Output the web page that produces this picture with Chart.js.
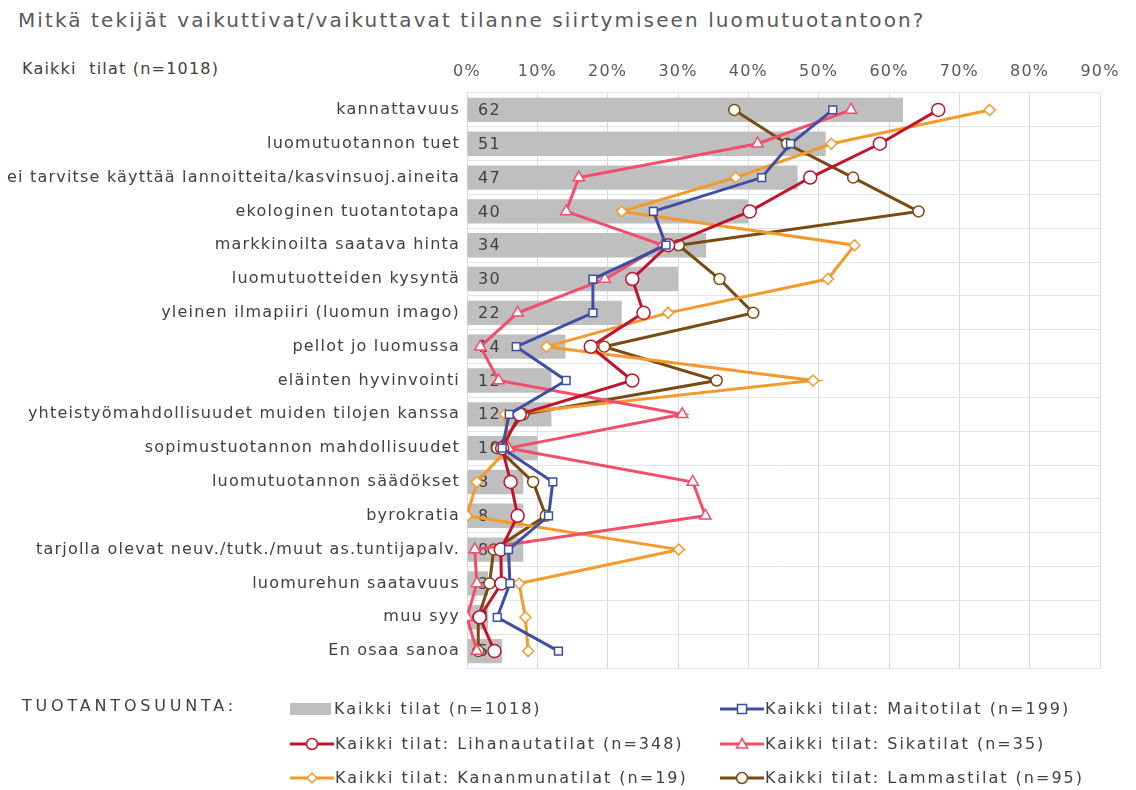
<!DOCTYPE html>
<html>
<head>
<meta charset="utf-8">
<script src="https://cdn.jsdelivr.net/npm/chart.js@4.4.1/dist/chart.umd.min.js"></script>
<style>
  body { margin: 0; background: #ffffff; }
  #wrap { position: relative; width: 1136px; height: 790px; font-family: "DejaVu Sans", sans-serif; color: #404040; }
  #chart { position: absolute; left: 0; top: 0; }
  #title { position: absolute; left: 18px; top: 8px; font-size: 20px; letter-spacing: 2.1px; color: #595959; white-space: nowrap; }
  #subtitle { position: absolute; left: 22px; top: 59px; font-size: 16px; letter-spacing: 1.2px; color: #404040; white-space: pre; }
  #legendTitle { position: absolute; left: 22px; top: 696px; font-size: 16px; letter-spacing: 3.8px; color: #404040; }
  .leg { position: absolute; font-size: 16px; letter-spacing: 2px; color: #404040; display: flex; align-items: center; white-space: nowrap; }
  .leg svg { margin-right: 1px; }
</style>
</head>
<body>
<div id="wrap">
  <div id="title">Mitkä tekijät vaikuttivat/vaikuttavat tilanne siirtymiseen luomutuotantoon?</div>
  <div id="subtitle">Kaikki  tilat (n=1018)</div>
  <canvas id="chart" width="1136" height="790"></canvas>
  <div id="legendTitle">TUOTANTOSUUNTA:</div>
  <div id="legend"></div>
</div>
<script>
// Categories (top to bottom)
let categories = [
    "kannattavuus",
    "luomutuotannon tuet",
    "ei tarvitse käyttää lannoitteita/kasvinsuoj.aineita",
    "ekologinen tuotantotapa",
    "markkinoilta saatava hinta",
    "luomutuotteiden kysyntä",
    "yleinen ilmapiiri (luomun imago)",
    "pellot jo luomussa",
    "eläinten hyvinvointi",
    "yhteistyömahdollisuudet muiden tilojen kanssa",
    "sopimustuotannon mahdollisuudet",
    "luomutuotannon säädökset",
    "byrokratia",
    "tarjolla olevat neuv./tutk./muut as.tuntijapalv.",
    "luomurehun saatavuus",
    "muu syy",
    "En osaa sanoa"
];

// Percentages per production type
let kaikkiTilat   = [62, 51, 47, 40, 34, 30, 22, 14, 12, 12, 10, 8, 8, 8, 3, 3, 5];
let maitotilat    = [52, 46, 41.9, 26.5, 28.3, 17.9, 17.9, 7, 14.1, 6, 5, 12.2, 11.6, 5.9, 6.1, 4.3, 13];
let lihanautatilat = [67, 58.7, 48.8, 40.2, 28.6, 23.5, 25.1, 17.6, 23.5, 7.5, 5, 6.2, 7.2, 4.8, 4.9, 1.8, 3.9];
let sikatilat     = [54.6, 41.3, 15.9, 14.1, 27.8, 19.6, 7.2, 1.9, 4.5, 30.6, 5.9, 32.1, 33.9, 1.1, 1.4, 0, 1.4];
let kananmunatilat = [74.3, 51.8, 38.2, 22, 55.1, 51.3, 28.6, 11.3, 49.2, 5.4, 5.9, 1.4, 0, 30.1, 7.4, 8.3, 8.7];
let lammastilat   = [38, 45.5, 54.9, 64.2, 30.1, 35.9, 40.7, 19.5, 35.5, 8, 4.3, 9.4, 11.2, 3.8, 3.2, 1.6, 1.6];

let xTicks = [0, 10, 20, 30, 40, 50, 60, 70, 80, 90];

let barLabel = "Kaikki tilat (n=1018)";
let lineSeries = [
    { label: "Kaikki tilat: Maitotilat (n=199)", data: maitotilat, color: "#3e4fa3", style: "rect", radius: 5.5 },
    { label: "Kaikki tilat: Lihanautatilat (n=348)", data: lihanautatilat, color: "#c0142e", style: "circle", radius: 6.5 },
    { label: "Kaikki tilat: Sikatilat (n=35)", data: sikatilat, color: "#f24d6b", style: "triangle", radius: 6.5 },
    { label: "Kaikki tilat: Kananmunatilat (n=19)", data: kananmunatilat, color: "#f39a2b", style: "rectRot", radius: 5.5 },
    { label: "Kaikki tilat: Lammastilat (n=95)", data: lammastilat, color: "#7a4a12", style: "circle", radius: 5.5 }
];

// Build datasets: lines first (drawn on top), the bar last
let datasets = [];
for (let s of lineSeries)
{
    datasets.push({
        type: "line",
        label: s.label,
        data: s.data,
        borderColor: s.color,
        borderWidth: 3,
        backgroundColor: "#ffffff",
        pointStyle: s.style,
        pointRadius: s.radius,
        pointBorderWidth: 1.5,
        pointBorderColor: s.color,
        pointBackgroundColor: "#ffffff",
        tension: 0,
        order: 1
    });
}
datasets.push({
    type: "bar",
    label: barLabel,
    data: kaikkiTilat,
    backgroundColor: "#bfbfbf",
    categoryPercentage: 1,
    barPercentage: 0.72,
    order: 10
});

// Wider letter spacing for the axis texts, like the original
let spacingPlugin = {
    id: "spacing",
    beforeDraw(chart) { chart.ctx.letterSpacing = "1.2px"; }
};

// Writes the value of each gray bar at its start, under the lines
let barValuePlugin = {
    id: "barValues",
    afterDatasetDraw(chart, args)
    {
        let ds = chart.data.datasets[args.index];
        if (ds.type !== "bar") return;
        let ctx = chart.ctx;
        let meta = chart.getDatasetMeta(args.index);
        let x0 = chart.scales.x.getPixelForValue(0);
        ctx.save();
        ctx.font = "16px 'DejaVu Sans'";
        ctx.fillStyle = "#404040";
        ctx.textAlign = "left";
        ctx.textBaseline = "middle";
        meta.data.forEach((bar, i) => {
            ctx.fillText(String(ds.data[i]), x0 + 11, bar.y + 1);
        });
        ctx.restore();
    }
};

new Chart(document.getElementById("chart"),
{
    data: { labels: categories, datasets: datasets },
    options:
    {
        responsive: false,
        animation: false,
        devicePixelRatio: 1,
        indexAxis: "y",
        layout: { padding: { left: 0, top: 0, right: 36, bottom: 122 } },
        plugins:
        {
            legend: { display: false },
            tooltip: { enabled: false }
        },
        scales:
        {
            x:
            {
                position: "top",
                min: 0,
                max: 90,
                afterBuildTicks: (scale) => { scale.ticks = xTicks.map(v => ({ value: v })); },
                afterFit: (scale) => { scale.height = 93; },
                ticks:
                {
                    callback: (v) => v + "%",
                    color: "#595959",
                    font: { family: "DejaVu Sans", size: 16 },
                    padding: 12
                },
                grid: { color: "#d9d9d9", drawTicks: false },
                border: { display: false }
            },
            y:
            {
                afterFit: (scale) => { scale.width = 467; },
                ticks:
                {
                    color: "#404040",
                    font: { family: "DejaVu Sans", size: 16 },
                    padding: 7,
                    autoSkip: false
                },
                grid: { color: "#e3e3e3", drawTicks: false, offset: true },
                border: { display: false }
            }
        }
    },
    plugins: [spacingPlugin, barValuePlugin]
});

// Legend laid out in two columns like the original
function lineSwatch(color, style)
{
    let marker = "";
    if (style === "rect") marker = `<rect x="17.5" y="4.5" width="9" height="9" fill="#fff" stroke="${color}" stroke-width="1.5"/>`;
    else if (style === "circle") marker = `<circle cx="22" cy="9" r="5.5" fill="#fff" stroke="${color}" stroke-width="1.5"/>`;
    else if (style === "triangle") marker = `<polygon points="22,3.5 27.5,13 16.5,13" fill="#fff" stroke="${color}" stroke-width="1.5"/>`;
    else if (style === "rectRot") marker = `<polygon points="22,4 27,9 22,14 17,9" fill="#fff" stroke="${color}" stroke-width="1.5"/>`;
    return `<svg width="44" height="18"><line x1="0" y1="9" x2="44" y2="9" stroke="${color}" stroke-width="3"/>${marker}</svg>`;
}

let legendDiv = document.getElementById("legend");
let legendItems = [
    { html: `<svg width="43" height="18"><rect x="0" y="3" width="41" height="12" fill="#bfbfbf"/></svg>`, label: barLabel },
    { html: lineSwatch(lineSeries[0].color, lineSeries[0].style), label: lineSeries[0].label },
    { html: lineSwatch(lineSeries[1].color, lineSeries[1].style), label: lineSeries[1].label },
    { html: lineSwatch(lineSeries[2].color, lineSeries[2].style), label: lineSeries[2].label },
    { html: lineSwatch(lineSeries[3].color, lineSeries[3].style), label: lineSeries[3].label },
    { html: lineSwatch(lineSeries[4].color, lineSeries[4].style), label: lineSeries[4].label }
];
let colX = [290, 720];
let rowY = [699, 734, 768];
for (let i = 0; i < legendItems.length; i++)
{
    let el = document.createElement("div");
    el.className = "leg";
    el.style.left = colX[i % 2] + "px";
    el.style.top = rowY[Math.floor(i / 2)] + "px";
    el.innerHTML = legendItems[i].html + `<span>${legendItems[i].label}</span>`;
    legendDiv.appendChild(el);
}
</script>
</body>
</html>
